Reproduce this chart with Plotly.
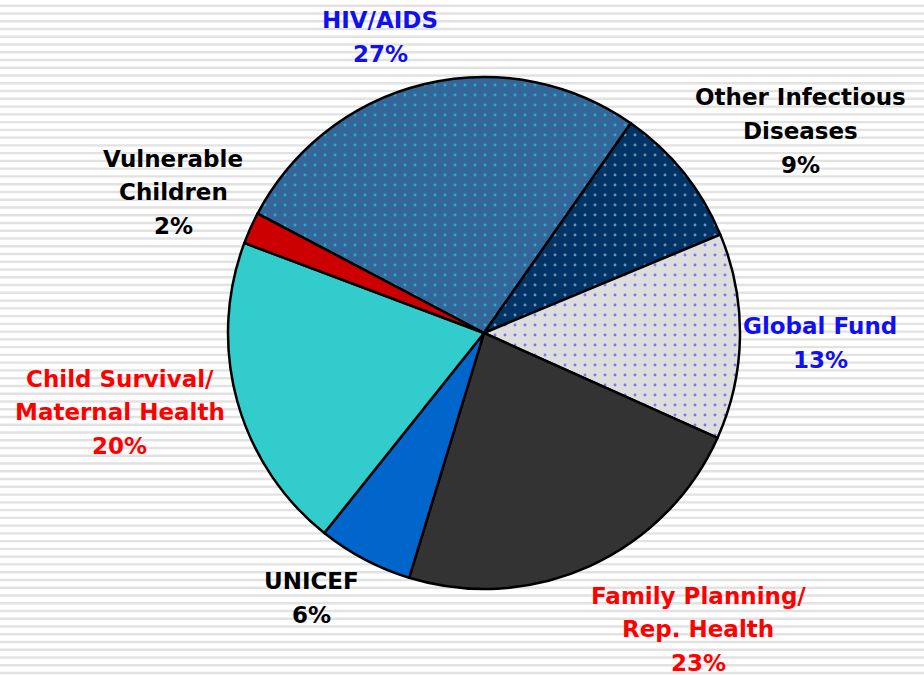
import plotly.graph_objects as go

# ---- data ----
categories = ["HIV/AIDS", "Other Infectious Diseases", "Global Fund",
              "Family Planning/ Rep. Health", "UNICEF",
              "Child Survival/ Maternal Health", "Vulnerable Children"]
values = [27, 9, 13, 23, 6, 20, 2]
label_lines = [["HIV/AIDS", "27%"],
               ["Other Infectious", "Diseases", "9%"],
               ["Global Fund", "13%"],
               ["Family Planning/", "Rep. Health", "23%"],
               ["UNICEF", "6%"],
               ["Child Survival/", "Maternal Health", "20%"],
               ["Vulnerable", "Children", "2%"]]

# ---- styles ----
W, H = 924, 675
fill_colors = ["#336699", "#003366", "#DDDDDD", "#333333", "#0066CC", "#33CCCC", "#CC0000"]
dot_colors = ["#22F0FF", "#E0EEFF", "#1111FF", None, None, None, None]
label_colors = ["#1010F0", "#000000", "#1010F0", "#FF0000", "#000000", "#FF0000", "#000000"]
# label block centers in pixels (x, y of middle line)
label_pos = [(380, 37), (800, 131), (820, 343), (698, 629), (311, 598), (120, 412), (173, 192)]
line_gap = 33.5

shapes_ = [""] * len(values)
fg = []
for i, c in enumerate(dot_colors):
    if c:
        shapes_[i] = "."
        fg.append(c)
    else:
        fg.append(fill_colors[i])

cx, cy, r = 484, 333, 256
fig = go.Figure(go.Pie(
    labels=categories,
    values=values,
    sort=False,
    direction="clockwise",
    rotation=-62.2,
    textinfo="none",
    hoverinfo="label+percent",
    marker=dict(
        colors=fill_colors,
        line=dict(color="#000000", width=2.5),
        pattern=dict(shape=shapes_, fgcolor=fg, bgcolor=fill_colors,
                     size=10, solidity=0.07, fillmode="overlay"),
    ),
    domain=dict(x=[(cx - r) / W, (cx + r) / W],
                y=[(H - cy - r) / H, (H - cy + r) / H]),
    showlegend=False,
))

# background stripes
stripes = []
y = 5.7
period = 7.76
while y < H:
    stripes.append(dict(type="rect", xref="paper", yref="paper", layer="below",
                        x0=0, x1=1, y0=1 - (y + 1.2) / H, y1=1 - (y - 1.2) / H,
                        fillcolor="#E2E2E2", line=dict(width=0)))
    y += period

annotations = []
for lines, (lx, ly), col in zip(label_lines, label_pos, label_colors):
    n = len(lines)
    for k, t in enumerate(lines):
        yy = ly + (k - (n - 1) / 2) * line_gap
        annotations.append(dict(text=t, x=lx / W, y=1 - yy / H, xref="paper", yref="paper",
                                xanchor="center", yanchor="middle", showarrow=False,
                                font=dict(family="DejaVu Sans", size=23, color=col, weight="bold")))

fig.update_layout(
    width=W, height=H,
    margin=dict(l=0, r=0, t=0, b=0),
    paper_bgcolor="#FFFFFF",
    plot_bgcolor="#FFFFFF",
    shapes=stripes,
    annotations=annotations,
)

fig.write_html("out.html", config={"displayModeBar": False},
               post_script="document.body.style.margin='0';document.body.style.overflow='hidden';")
